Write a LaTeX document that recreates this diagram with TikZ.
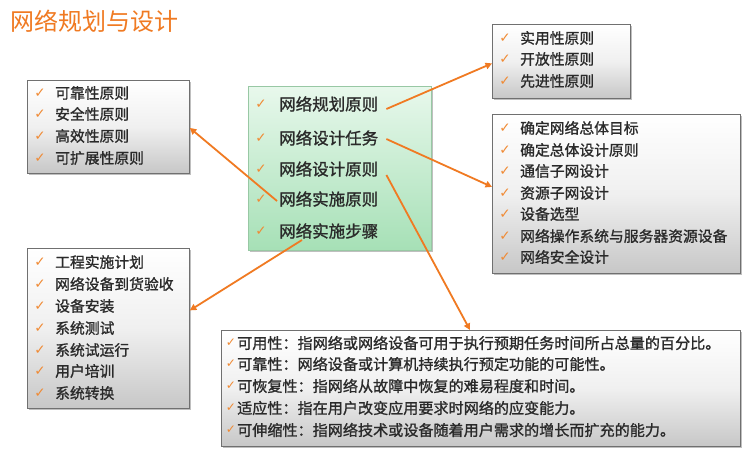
\documentclass[tikz,border=0pt]{standalone}
\usepackage{fontspec}
\setmainfont{Noto Sans CJK SC}[FakeBold=1.2]
\newfontfamily\titlefont{Noto Sans CJK SC}
\newfontfamily\djv{DejaVu Sans}
\usetikzlibrary{arrows.meta,shadows,calc}
\definecolor{org}{HTML}{F07A22}
\definecolor{chk}{HTML}{F08A34}
\definecolor{txt}{HTML}{2A2A2A}
\definecolor{bord}{HTML}{707070}
\definecolor{gtop}{HTML}{E8F8EC}
\definecolor{gbot}{HTML}{A6E0B6}
\definecolor{gbord}{HTML}{98C8A4}
\tikzset{
  graybox/.style={draw=bord, line width=0.8pt, top color=white, bottom color=black!22,
    middle color=black!6, inner sep=0pt, anchor=north west,
    drop shadow={shadow xshift=1.5pt, shadow yshift=-1.5pt, opacity=0.25, fill=black}},
  greenbox/.style={draw=gbord, line width=0.8pt, top color=gtop, bottom color=gbot,
    inner sep=0pt, anchor=north west,
    drop shadow={shadow xshift=1.5pt, shadow yshift=-1.5pt, opacity=0.25, fill=black}},
  itemtxt/.style={anchor=west, inner sep=0pt, text=txt, font=\fontsize{14.8}{16}\selectfont},
  bigtxt/.style={anchor=west, inner sep=0pt, text=txt, font=\fontsize{16.5}{18}\selectfont},
  ckmark/.style={anchor=center, inner sep=0pt, text=chk, font=\djv\fontsize{13.5}{14}\selectfont},
  conn/.style={draw=org, line width=1.8pt, -{Triangle[length=6.5pt,width=6.5pt]}}
}
\begin{document}
\begin{tikzpicture}[x=1pt,y=-1pt]
\useasboundingbox (0,0) rectangle (742,458);
\fill[white] (0,0) rectangle (742,458);

% title
\node[anchor=west, inner sep=0pt, text=org, font=\titlefont\fontsize{24}{26}\selectfont] (title) at (10,21) {网络规划与设计};

% boxes
\node[greenbox, minimum width=183pt, minimum height=164pt] (cbox) at (248,86) {};
\node[graybox, minimum width=162pt, minimum height=93pt] (ltop) at (27,80) {};
\node[graybox, minimum width=162pt, minimum height=160pt] (lbot) at (27,248) {};
\node[graybox, minimum width=138pt, minimum height=74pt] (rtop) at (492,24) {};
\node[graybox, minimum width=248pt, minimum height=159pt] (rmid) at (492,114) {};
\node[graybox, minimum width=519pt, minimum height=116pt] (bbox) at (221,330) {};

% centre items
\foreach \t/\y/\n in {网络规划原则/104/c1, 网络设计任务/138/c2, 网络设计原则/169/c3, 网络实施原则/199/c4, 网络实施步骤/231/c5}{
  \node[ckmark] (k\n) at (261,\y) {✓};
  \node[bigtxt] (\n) at (279,\y) {\t};
}

% left top
\foreach \t/\y [count=\i] in {可靠性原则/93, 安全性原则/114, 高效性原则/136, 可扩展性原则/158}{
  \node[ckmark] (klt\i) at (40,\y) {✓};
  \node[itemtxt] (lt\i) at (55,\y) {\t};
}
% left bottom
\foreach \t/\y [count=\i] in {工程实施计划/262, 网络设备到货验收/284, 设备安装/306, 系统测试/328, 系统试运行/350, 用户培训/371, 系统转换/393}{
  \node[ckmark] (klb\i) at (40,\y) {✓};
  \node[itemtxt] (lb\i) at (55,\y) {\t};
}
% right top
\foreach \t/\y [count=\i] in {实用性原则/38, 开放性原则/59, 先进性原则/81}{
  \node[ckmark] (krt\i) at (505,\y) {✓};
  \node[itemtxt] (rt\i) at (520,\y) {\t};
}
% right middle
\foreach \t/\y [count=\i] in {确定网络总体目标/128, 确定总体设计原则/150, 通信子网设计/171, 资源子网设计/193, 设备选型/214, 网络操作系统与服务器资源设备/236, 网络安全设计/257}{
  \node[ckmark] (krm\i) at (505,\y) {✓};
  \node[itemtxt] (rm\i) at (520,\y) {\t};
}
% bottom
\foreach \t/\y [count=\i] in {可用性：指网络或网络设备可用于执行预期任务时间所占总量的百分比。/343, 可靠性：网络设备或计算机持续执行预定功能的可能性。/364, 可恢复性：指网络从故障中恢复的难易程度和时间。/386, 适应性：指在用户改变应用要求时网络的应变能力。/408, 可伸缩性：指网络技术或设备随着用户需求的增长而扩充的能力。/430}{
  \node[ckmark, font=\djv\fontsize{12}{13}\selectfont] (kb\i) at (231,\y) {✓};
  \node[itemtxt, font=\fontsize{15.1}{16}\selectfont] (bt\i) at (237,\y) {\t};
}

% connectors
\draw[conn] ($(c1.east)+(8,5)$) -- ($(rtop.west)+(0,2)$);
\draw[conn] ($(c2.east)+(8,1)$) -- ($(rmid.west)+(0,-7)$);
\draw[conn] ($(c3.east)+(8,6)$) -- ($(bbox.north west)+(249,0)$);
\draw[conn] ($(c4.west)+(-2,2)$) -- ($(ltop.east)+(0,1)$);
\draw[conn] ($(c5.west)+(23,9)$) -- ($(lbot.east)+(0,-18)$);
\end{tikzpicture}
\end{document}
